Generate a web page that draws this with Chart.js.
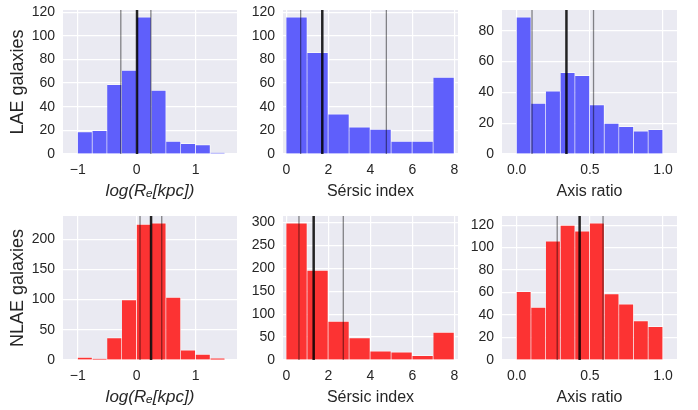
<!DOCTYPE html>
<html>
<head>
<meta charset="utf-8">
<title>LAE / NLAE morphology</title>
<script src="https://cdn.jsdelivr.net/npm/chart.js@4.4.1/dist/chart.umd.min.js"></script>
<style>
  html, body { margin: 0; padding: 0; background: #fff; }
  body { width: 698px; height: 410px; position: relative; overflow: hidden; }
  canvas { position: absolute; }
</style>
</head>
<body>
<canvas id="lae_re" width="257" height="214" style="left:0px;top:-10px"></canvas>
<canvas id="lae_n"  width="240" height="214" style="left:238px;top:-10px"></canvas>
<canvas id="lae_q"  width="240" height="214" style="left:457px;top:-10px"></canvas>
<canvas id="nlae_re" width="257" height="214" style="left:0px;top:196px"></canvas>
<canvas id="nlae_n"  width="240" height="214" style="left:238px;top:196px"></canvas>
<canvas id="nlae_q"  width="240" height="214" style="left:457px;top:196px"></canvas>
<script>
// bin edges
var reEdges = [-1, -0.75, -0.5, -0.25, 0, 0.25, 0.5, 0.75, 1, 1.25, 1.5];
var nEdges  = [0, 1, 2, 3, 4, 5, 6, 7, 8];
var qEdges  = [0, 0.1, 0.2, 0.3, 0.4, 0.5, 0.6, 0.7, 0.8, 0.9, 1.0];

// counts per bin
var laeRe  = [19, 20, 59, 71, 116, 54, 11, 9, 8, 1];
var laeN   = [116, 86, 34, 23, 21, 11, 11, 65];
var laeQ   = [89, 33, 41, 53, 51, 32, 20, 18, 15, 16];
var nlaeRe = [5, 2, 37, 100, 225, 227, 104, 17, 10, 3];
var nlaeN  = [299, 196, 85, 49, 20, 18, 10, 61];
var nlaeQ  = [61, 47, 106, 120, 115, 122, 59, 50, 35, 30];

// vertical markers: [low, median, high]
var laeReLines  = [-0.27, 0.005, 0.24];
var laeNLines   = [0.68, 1.71, 4.76];
var laeQLines   = [0.105, 0.34, 0.525];
var nlaeReLines = [0.056, 0.243, 0.424];
var nlaeNLines  = [0.6, 1.3, 2.71];
var nlaeQLines  = [0.277, 0.43, 0.59];

// tick values / labels
var reTicks = [-1, 0, 1];         var reLabels = ['\u22121', '0', '1'];
var nTicks  = [0, 2, 4, 6, 8];    var nLabels  = ['0', '2', '4', '6', '8'];
var qTicks  = [0, 0.5, 1];        var qLabels  = ['0.0', '0.5', '1.0'];
var laeReY  = [0, 20, 40, 60, 80, 100, 120];
var laeNY   = [0, 20, 40, 60, 80, 100, 120];
var laeQY   = [0, 20, 40, 60, 80];
var nlaeReY = [0, 50, 100, 150, 200];
var nlaeNY  = [0, 50, 100, 150, 200, 250, 300];
var nlaeQY  = [0, 20, 40, 60, 80, 100, 120];

const BLUE = '#5f5ffb', RED = '#fc3333';
const BG = '#eaeaf2', INK = '#262626';
const FONT = 'Liberation Sans';

var reAxis = {min: -1.25, max: 1.7,  ticks: reTicks, labels: reLabels, title: 'log(R\u2091[kpc])', italic: true};
var nAxis  = {min: -0.16, max: 8.17, ticks: nTicks,  labels: nLabels,  title: 'S\u00e9rsic index'};
var qAxis  = {min: -0.1,  max: 1.095, ticks: qTicks, labels: qLabels,  title: 'Axis ratio'};

const plotBg = {
    id: 'plotBg',
    beforeDraw(chart) {
        var a = chart.chartArea, ctx = chart.ctx;
        ctx.save();
        ctx.fillStyle = BG;
        ctx.fillRect(a.left, a.top, a.right - a.left, a.bottom - a.top);
        ctx.restore();
    }
};

function makeHist(id, edges, counts, lines, color, xAxis, yTicks, yAxW, yTitle) {
    var pts = [];
    for (var i = 0; i < counts.length; i++) {
        pts.push({x: (edges[i] + edges[i + 1]) / 2, y: counts[i]});
    }
    var yMax = Math.max.apply(null, counts) * 1.05;

    var datasets = [{
        type: 'bar',
        data: pts,
        backgroundColor: color,
        borderColor: 'rgba(255,255,255,0.6)',
        borderWidth: {top: 1, right: 1, bottom: 0, left: 0},
        borderSkipped: false,
        barPercentage: 1,
        categoryPercentage: 1,
        order: 2
    }];
    lines.forEach(function(v, k) {
        datasets.push({
            type: 'line',
            data: [{x: v, y: 0}, {x: v, y: yMax}],
            borderColor: k == 1 ? 'rgba(0,0,0,0.85)' : 'rgba(0,0,0,0.45)',
            borderWidth: k == 1 ? 2.5 : 1.3,
            pointRadius: 0,
            fill: false,
            order: 1
        });
    });

    new Chart(document.getElementById(id), {
        type: 'bar',
        data: {datasets: datasets},
        options: {
            responsive: false,
            animation: false,
            devicePixelRatio: 1,
            layout: {padding: {top: 20, right: 20, bottom: 0, left: 0}},
            plugins: {legend: {display: false}, tooltip: {enabled: false}},
            scales: {
                x: {
                    type: 'linear',
                    min: xAxis.min, max: xAxis.max,
                    offset: false,
                    grid: {color: '#ffffff', lineWidth: 1.2, drawTicks: false, offset: false},
                    border: {display: false},
                    afterBuildTicks: function(ax) { ax.ticks = xAxis.ticks.map(function(v) { return {value: v}; }); },
                    afterFit: function(ax) { ax.height = 50; },
                    ticks: {
                        autoSkip: false, maxRotation: 0, padding: 8, color: INK,
                        font: {family: FONT, size: 14},
                        callback: function(v, i) { return xAxis.labels[i]; }
                    },
                    title: {
                        display: true, text: xAxis.title, color: INK,
                        font: {family: FONT, size: xAxis.italic ? 17 : 16, style: xAxis.italic ? 'italic' : 'normal'},
                        padding: {top: 0, bottom: 3}
                    }
                },
                y: {
                    type: 'linear',
                    min: 0, max: yMax,
                    grid: {color: '#ffffff', lineWidth: 1.2, drawTicks: false},
                    border: {display: false},
                    afterBuildTicks: function(ax) { ax.ticks = yTicks.map(function(v) { return {value: v}; }); },
                    afterFit: function(ax) { ax.width = yAxW; },
                    ticks: {
                        padding: 8, color: INK,
                        font: {family: FONT, size: 14},
                        callback: function(v) { return String(v); }
                    },
                    title: {
                        display: !!yTitle, text: yTitle || '', color: INK,
                        font: {family: FONT, size: 18},
                        padding: {top: 7, bottom: 0}
                    }
                }
            }
        },
        plugins: [plotBg]
    });
}

makeHist('lae_re',  reEdges, laeRe,  laeReLines,  BLUE, reAxis, laeReY,  63, 'LAE galaxies');
makeHist('lae_n',   nEdges,  laeN,   laeNLines,   BLUE, nAxis,  laeNY,   45);
makeHist('lae_q',   qEdges,  laeQ,   laeQLines,   BLUE, qAxis,  laeQY,   45);
makeHist('nlae_re', reEdges, nlaeRe, nlaeReLines, RED,  reAxis, nlaeReY, 63, 'NLAE galaxies');
makeHist('nlae_n',  nEdges,  nlaeN,  nlaeNLines,  RED,  nAxis,  nlaeNY,  45);
makeHist('nlae_q',  qEdges,  nlaeQ,  nlaeQLines,  RED,  qAxis,  nlaeQY,  45);
</script>
</body>
</html>
